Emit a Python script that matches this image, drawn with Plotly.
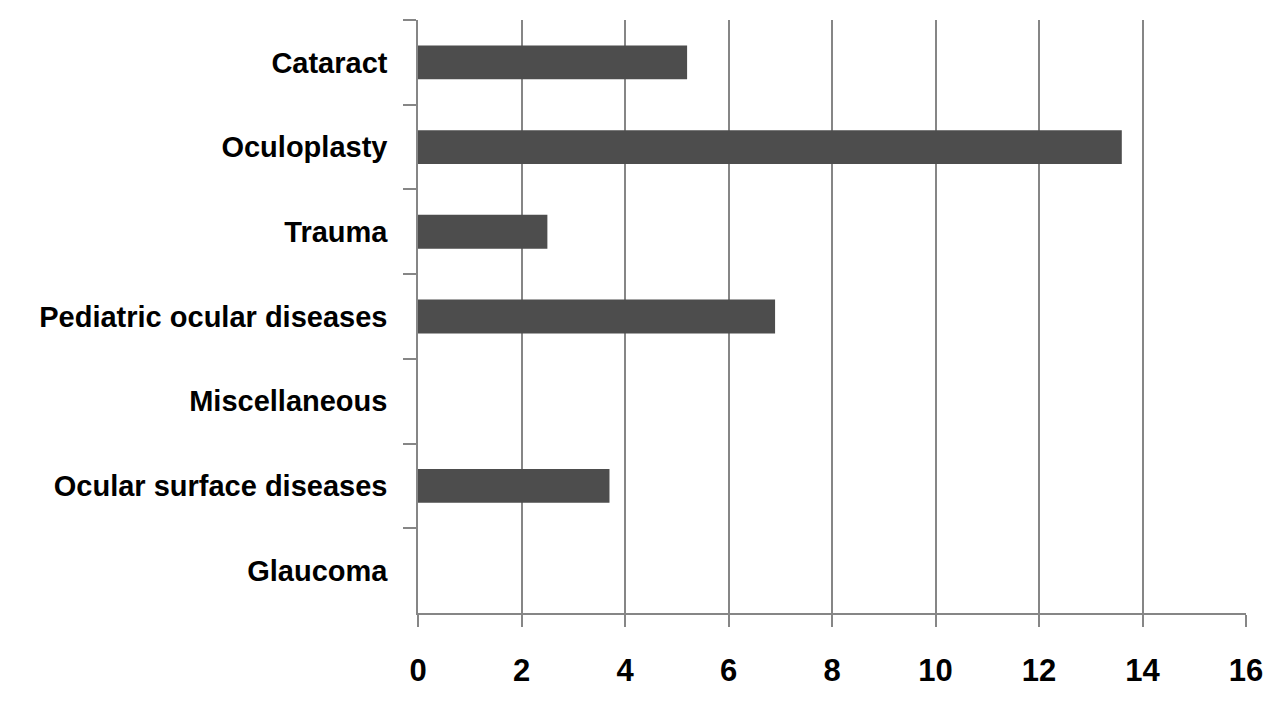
import plotly.graph_objects as go

categories = ["Cataract", "Oculoplasty", "Trauma", "Pediatric ocular diseases",
              "Miscellaneous", "Ocular surface diseases", "Glaucoma"]
values = [5.2, 13.6, 2.5, 6.9, 0, 3.7, 0]
x_ticks = [0, 2, 4, 6, 8, 10, 12, 14, 16]

FONT = "Liberation Sans, Arial, sans-serif"

fig = go.Figure(go.Bar(
    x=values, y=categories, orientation="h",
    marker=dict(color="#4d4d4d", line=dict(width=0)),
    width=0.4,
))

fig.update_layout(
    width=1284, height=709,
    margin=dict(l=410, r=46, t=12, b=104),
    paper_bgcolor="white", plot_bgcolor="white",
    showlegend=False,
    font=dict(family=FONT, size=29, color="black"),
)
fig.update_xaxes(
    range=[0, 16], tickvals=x_ticks, ticktext=[str(v) for v in x_ticks],
    showgrid=True, gridcolor="#868686", gridwidth=1.5,
    showline=True, linecolor="#868686", linewidth=1.5,
    ticks="outside", ticklen=12, tickcolor="#868686", tickwidth=1.5,
    tickfont=dict(family=FONT, size=31, color="black", weight="bold"),
    ticklabelstandoff=17,
    zeroline=False,
)
fig.update_yaxes(
    autorange="reversed", type="category",
    showgrid=False,
    showline=True, linecolor="#868686", linewidth=1.5,
    ticks="outside", ticklen=13, tickcolor="#868686", tickwidth=1.5,
    tickson="boundaries",
    tickfont=dict(family=FONT, size=29, color="black", weight="bold"),
    ticklabelstandoff=23,
)

fig.write_html("out.html")
